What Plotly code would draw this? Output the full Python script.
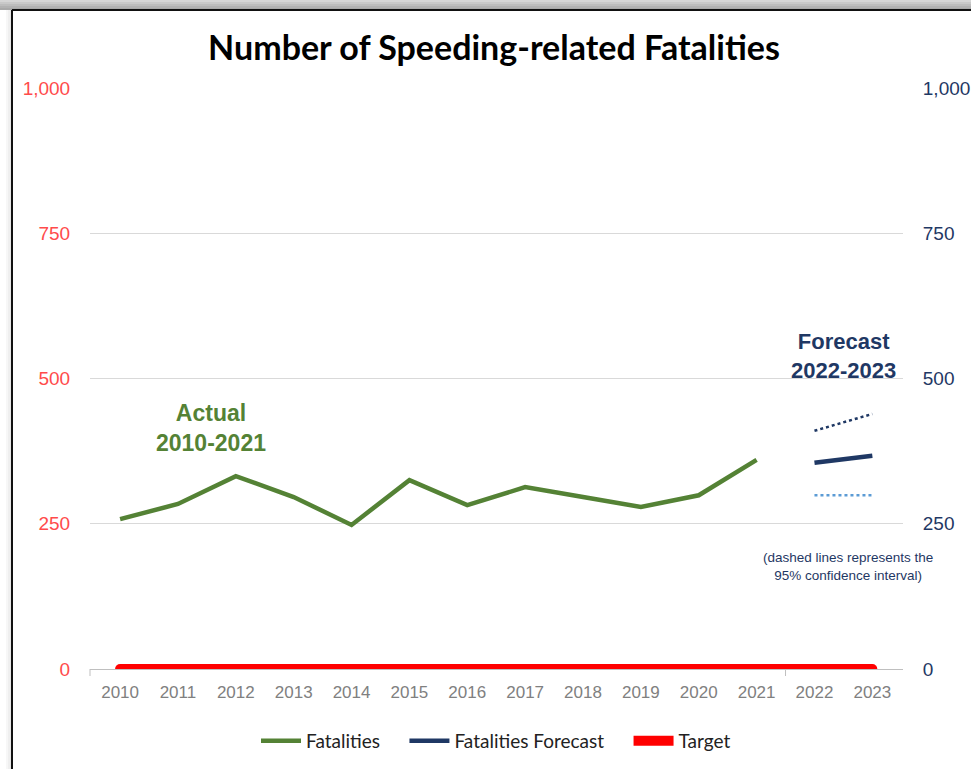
import plotly.graph_objects as go

years = list(range(2010, 2022))
fatalities = [258, 284, 332, 296, 248, 325, 282, 313, 296, 279, 299, 360]
forecast_years = [2022, 2023]
forecast = [355, 367]
ci_upper = [410, 439]
ci_lower = [299, 299]
target_years = [2010, 2023]
target = [0, 0]
all_years = list(range(2010, 2024))
y_ticks = [0, 250, 500, 750, 1000]

W, H = 971, 769
L, R, T, B = 90, 903, 88, 669


def px(x):
    return (x - L) / (R - L)


def py(y):
    return (B - y) / (B - T)


GREEN = "#548235"
NAVY = "#1F3864"
LIGHTBLUE = "#5B9BD5"
RED = "#FF0000"
NB = "\u00a0"

fig = go.Figure()

fig.add_trace(go.Scatter(x=target_years, y=target, mode="lines", name="Target",
                         line=dict(color=RED, width=10), legendrank=3))
fig.add_trace(go.Scatter(x=target_years, y=target, mode="markers", showlegend=False,
                         marker=dict(color=RED, size=10), hoverinfo="skip"))
fig.add_trace(go.Scatter(x=years, y=fatalities, mode="lines", name="Fatalities" + NB * 4,
                         line=dict(color=GREEN, width=4.5), legendrank=1))
fig.add_trace(go.Scatter(x=forecast_years, y=ci_upper, mode="lines", showlegend=False,
                         line=dict(color=NAVY, width=2.5, dash="dot"), yaxis="y2"))
fig.add_trace(go.Scatter(x=forecast_years, y=ci_lower, mode="lines", showlegend=False,
                         line=dict(color=LIGHTBLUE, width=2.5, dash="dot"), yaxis="y2"))
fig.add_trace(go.Scatter(x=forecast_years, y=forecast, mode="lines",
                         name="Fatalities Forecast" + NB * 4,
                         line=dict(color=NAVY, width=4.5), yaxis="y2", legendrank=2))

shapes = []
# shadow band at top
shades = ["#d6d6d6", "#c9c9c9", "#bdbdbd", "#b2b2b2", "#a9a9a9"]
for i, c in enumerate(shades):
    shapes.append(dict(type="rect", xref="paper", yref="paper", layer="below",
                       x0=px(0), x1=px(W + 2), y0=py(2 * i), y1=py(2 * i + 2),
                       fillcolor=c, line=dict(width=0)))
# faint left shadow
lshades = ["#f7f7f7", "#efefef", "#e6e6e6"]
for i, c in enumerate(lshades):
    shapes.append(dict(type="rect", xref="paper", yref="paper", layer="below",
                       x0=px(6 + 2 * i), x1=px(8 + 2 * i), y0=py(H + 2), y1=py(10),
                       fillcolor=c, line=dict(width=0)))
# frame
shapes.append(dict(type="line", xref="paper", yref="paper", x0=px(12), x1=px(W + 5),
                   y0=py(10), y1=py(10), line=dict(color="#111111", width=2)))
shapes.append(dict(type="line", xref="paper", yref="paper", x0=px(12), x1=px(12),
                   y0=py(10), y1=py(H + 5), line=dict(color="#111111", width=2)))
# axis tick marks
shapes.append(dict(type="line", xref="x", yref="paper", x0=2021.5, x1=2021.5,
                   y0=0, y1=py(B + 7), line=dict(color="#BFBFBF", width=1)))
shapes.append(dict(type="line", xref="paper", yref="paper", x0=0, x1=0,
                   y0=0, y1=py(B + 7), line=dict(color="#BFBFBF", width=1)))

annotations = [
    dict(text="<b>Actual<br>2010-2021</b>", x=2011.57, y=415, xref="x", yref="y",
         showarrow=False, font=dict(family="Liberation Sans, Arial", size=23, color=GREEN),
         align="center", yanchor="middle"),
    dict(text="<b>Forecast<br>2022-2023</b>", x=2022.5, y=539, xref="x", yref="y",
         showarrow=False, font=dict(family="Liberation Sans, Arial", size=22, color=NAVY),
         align="center", yanchor="middle"),
    dict(text="(dashed lines represents the<br>95% confidence interval)", x=2022.58, y=177,
         xref="x", yref="y", showarrow=False,
         font=dict(family="Liberation Sans, Arial", size=13.5, color=NAVY),
         align="center", yanchor="middle"),
]

fig.update_layout(
    width=W, height=H,
    autosize=False,
    margin=dict(l=L, r=W - R, t=T, b=H - B, pad=0, autoexpand=False),
    paper_bgcolor="white", plot_bgcolor="white",
    title=dict(text="<b>Number of Speeding-related Fatalities</b>", xref="container",
               x=494 / W, xanchor="center", yref="container",
               y=1 - 48 / H, yanchor="middle", automargin=False,
               font=dict(family="Lato, Open Sans", size=34, color="#000000")),
    xaxis=dict(range=[2009.48, 2023.53], tickvals=all_years, ticktext=[str(y) for y in all_years],
               showgrid=False, zeroline=False, showline=True, linecolor="#BFBFBF", linewidth=1,
               ticks="outside", ticklen=8, tickcolor="rgba(0,0,0,0)", automargin=False,
               tickfont=dict(family="Liberation Sans, Arial", size=17, color="#808080"),
               layer="below traces"),
    yaxis=dict(range=[0, 1000], tickvals=y_ticks, tickformat=",", showgrid=True,
               gridcolor="#D9D9D9", gridwidth=1, zeroline=False, showline=False,
               ticks="outside", ticklen=15, tickcolor="rgba(0,0,0,0)", automargin=False,
               tickfont=dict(family="Liberation Sans, Arial", size=19, color="#FF4B4B"),
               layer="below traces"),
    yaxis2=dict(range=[0, 1000], tickvals=y_ticks, tickformat=",", overlaying="y", side="right",
                showgrid=False, zeroline=False, showline=False, automargin=False,
                ticks="outside", ticklen=15, tickcolor="rgba(0,0,0,0)",
                tickfont=dict(family="Liberation Sans, Arial", size=19, color=NAVY)),
    legend=dict(orientation="h", xref="paper", x=px(496), xanchor="center",
                yref="container", y=1 - 741 / H, yanchor="middle",
                font=dict(family="Lato, Open Sans", size=19, color="#222222"),
                traceorder="normal", itemwidth=40, bgcolor="rgba(0,0,0,0)"),
    shapes=shapes,
    annotations=annotations,
    showlegend=True,
)

fig.write_html(
    "out.html",
    config={"displayModeBar": False, "responsive": False},
    post_script="document.body.style.margin='0';document.body.style.overflow='hidden';",
)
